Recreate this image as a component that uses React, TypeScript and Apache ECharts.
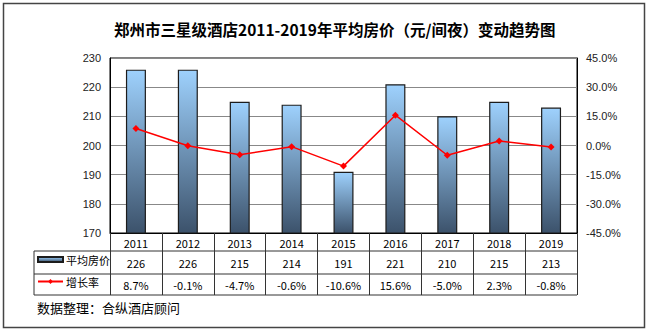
import React, { useEffect, useRef } from "react";
import * as echarts from "echarts";

const years = ["2011", "2012", "2013", "2014", "2015", "2016", "2017", "2018", "2019"];
const avgPrice = [226, 226, 215, 214, 191, 221, 210, 215, 213];
const growthRate = [8.7, -0.1, -4.7, -0.6, -10.6, 15.6, -5.0, 2.3, -0.8];
const priceAxis = { min: 170, max: 230, interval: 10 };
const rateAxis = { min: -45, max: 45, interval: 15 };
const titleText = "郑州市三星级酒店2011-2019年平均房价（元/间夜）变动趋势图";
const seriesNames = ["平均房价", "增长率"];
const sourceText = "数据整理：合纵酒店顾问";

const CJK = '"Noto Sans CJK SC", "Noto Sans", sans-serif';
const LAT = '"Liberation Sans", Arial, sans-serif';

export default function App() {
  const ref = useRef<HTMLDivElement>(null);
  useEffect(() => {
    if (!ref.current) return;
    const chart = echarts.init(ref.current, null, { renderer: "svg" });
    const makeGradient = () =>
      new echarts.graphic.LinearGradient(0, 0, 0, 1, [
        { offset: 0, color: "#9ed1fd" },
        { offset: 1, color: "#3c526b" },
      ]);
    const lineColor = "#333";
    const hLine = (y: number) => ({
      type: "line",
      shape: { x1: 34, y1: y, x2: 577, y2: y },
      style: { stroke: lineColor, lineWidth: 1 },
      silent: true,
    });
    chart.setOption({
      animation: false,
      backgroundColor: "#fff",
      title: [
        {
          text: titleText,
          left: 114,
          top: 21,
          padding: 0,
          textStyle: { fontSize: 15.5, fontWeight: "bold", color: "#000", fontFamily: CJK },
        },
        {
          text: sourceText,
          left: 37,
          top: 301,
          padding: 0,
          textStyle: { fontSize: 13, fontWeight: "normal", color: "#000", fontFamily: CJK },
        },
      ],
      legend: [
        {
          data: [seriesNames[0]],
          left: 37,
          top: 254,
          padding: 0,
          icon: "rect",
          itemWidth: 25,
          itemHeight: 5,
          itemGap: 3,
          selectedMode: false,
          itemStyle: { color: makeGradient() },
          textStyle: { fontSize: 11, color: "#000", fontFamily: CJK, padding: [0, 0, 0, -2] },
        },
        {
          data: [seriesNames[1]],
          left: 37,
          top: 276,
          padding: 0,
          itemWidth: 25,
          itemHeight: 6,
          itemGap: 3,
          selectedMode: false,
          textStyle: { fontSize: 11, color: "#000", fontFamily: CJK, padding: [0, 0, 0, -2] },
        },
      ],
      grid: {
        left: 110,
        right: 73,
        top: 58,
        bottom: 99,
        show: true,
        borderColor: "#000",
        borderWidth: 1,
        backgroundColor: "transparent",
      },
      xAxis: {
        type: "category",
        data: years,
        axisLine: { show: true, onZero: false, lineStyle: { color: "#000", width: 1 } },
        axisTick: { show: true, length: 62, alignWithLabel: false, lineStyle: { color: lineColor, width: 1 } },
        axisLabel: {
          interval: 0,
          margin: 1,
          color: "#000",
          fontFamily: CJK,
          fontSize: 11,
          formatter: (v: string, i: number) =>
            `{y|${v}}\n{v|${avgPrice[i]}}\n{r|${growthRate[i].toFixed(1)}%}`,
          rich: {
            y: { lineHeight: 18, fontSize: 11, fontFamily: CJK, color: "#000" },
            v: { lineHeight: 22, fontSize: 11, fontFamily: CJK, color: "#000" },
            r: { lineHeight: 22, fontSize: 11, fontFamily: CJK, color: "#000" },
          },
        },
        splitLine: { show: false },
      },
      yAxis: [
        {
          type: "value",
          min: priceAxis.min,
          max: priceAxis.max,
          interval: priceAxis.interval,
          axisLine: { show: true, lineStyle: { color: "#000" } },
          axisTick: { show: false },
          axisLabel: { color: "#222", fontSize: 11, fontFamily: LAT, margin: 9 },
          splitLine: { show: true, lineStyle: { color: "#888", width: 1 } },
        },
        {
          type: "value",
          position: "right",
          min: rateAxis.min,
          max: rateAxis.max,
          interval: rateAxis.interval,
          axisLine: { show: true, lineStyle: { color: "#000" } },
          axisTick: { show: false },
          axisLabel: {
            color: "#222",
            fontSize: 11,
            fontFamily: LAT,
            margin: 9,
            formatter: (v: number) => `${v.toFixed(1)}%`,
          },
          splitLine: { show: false },
        },
      ],
      series: [
        {
          name: seriesNames[0],
          type: "bar",
          data: avgPrice,
          barWidth: 20,
          itemStyle: { color: makeGradient(), borderColor: "#1c1c1c", borderWidth: 1.2 },
        },
        {
          name: seriesNames[1],
          type: "line",
          yAxisIndex: 1,
          data: growthRate,
          symbol: "diamond",
          symbolSize: 7,
          itemStyle: { color: "#ff0000" },
          lineStyle: { color: "#ff0000", width: 1.5 },
        },
      ],
      graphic: [
        {
          type: "rect",
          shape: { x: 3.5, y: 3.5, width: 641, height: 324 },
          style: { fill: "none", stroke: "#444", lineWidth: 1.5 },
          silent: true,
        },
        hLine(251),
        hLine(274),
        hLine(295),
        {
          type: "line",
          shape: { x1: 34, y1: 251, x2: 34, y2: 295 },
          style: { stroke: lineColor, lineWidth: 1 },
          silent: true,
        },
      ],
    });
    return () => chart.dispose();
  }, []);
  return (
    <div
      ref={ref}
      style={{ position: "fixed", left: 0, top: 0, width: 650, height: 332, background: "#fff" }}
    />
  );
}
